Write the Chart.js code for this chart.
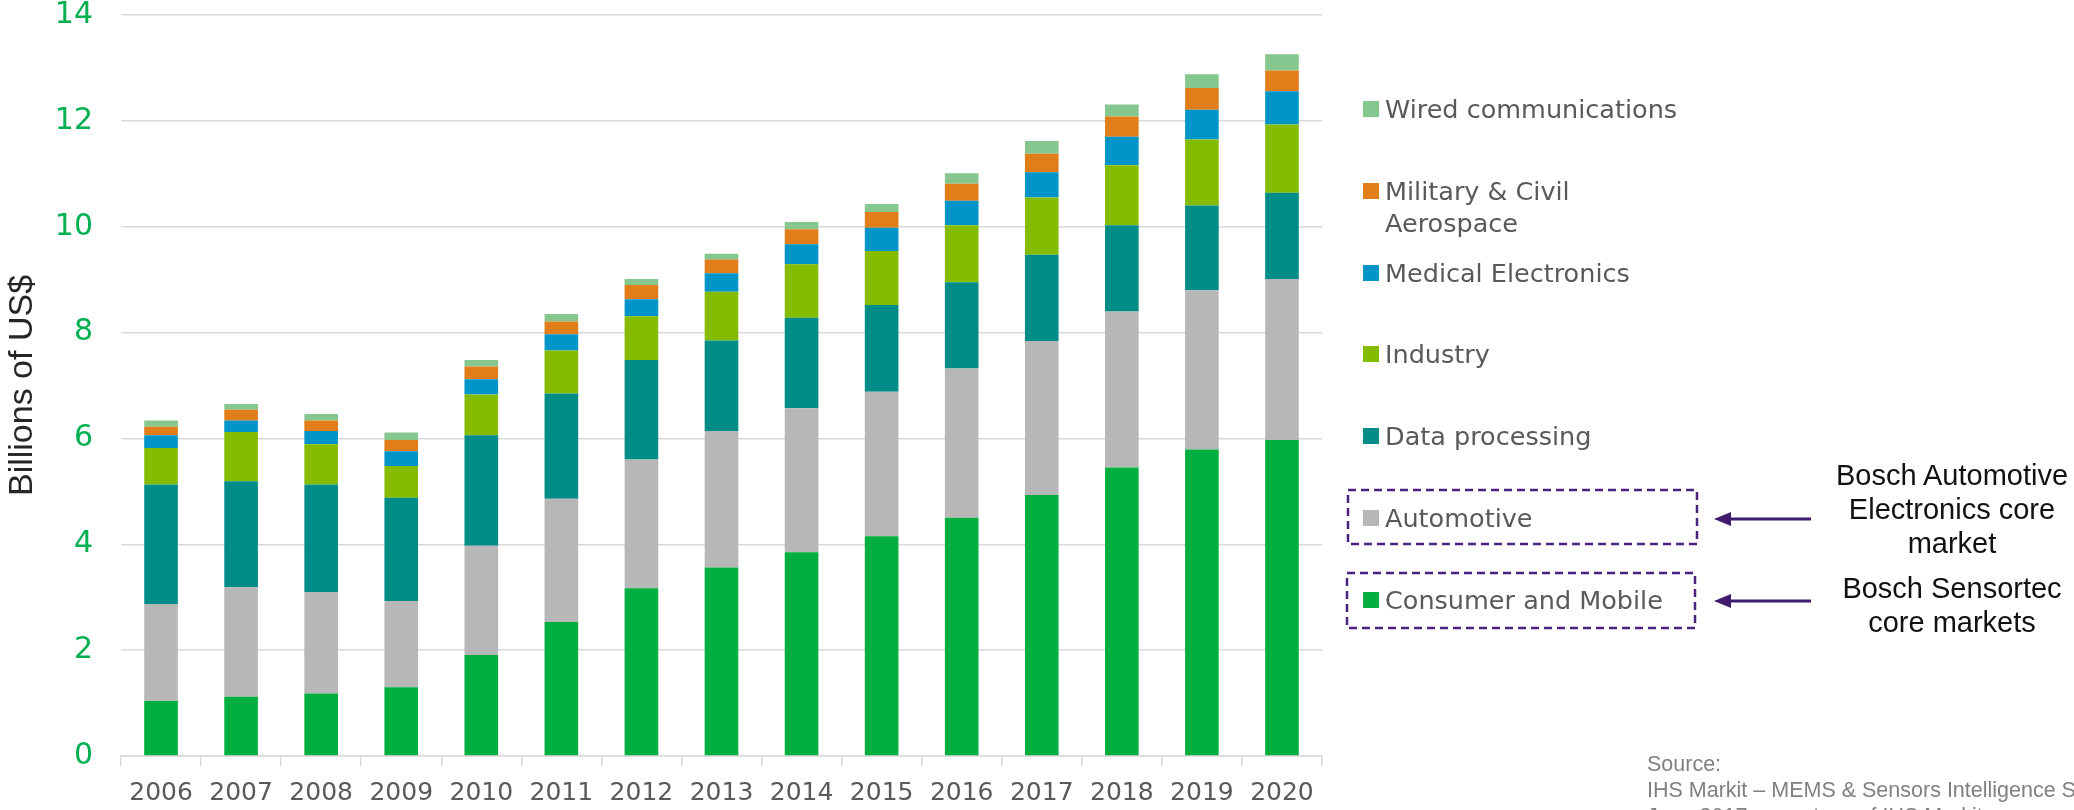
<!DOCTYPE html>
<html>
<head>
<meta charset="utf-8">
<script src="https://cdn.jsdelivr.net/npm/chart.js@4.4.1/dist/chart.umd.min.js"></script>
<style>
  html, body { margin: 0; padding: 0; background: #fff; overflow: hidden; }
  #wrap { position: relative; width: 2074px; height: 810px; overflow: hidden; }
  #wrap canvas { position: absolute; left: 0; top: 0; }
  .leg { position: absolute; left: 1363px; font-family: 'DejaVu Sans', Verdana, sans-serif; font-size: 25.5px; line-height: 32px; color: #595959; white-space: pre-line; }
  .leg i { position: absolute; left: 0; top: 8px; width: 16px; height: 16px; }
  .leg span { display: block; margin-left: 22px; }
  .note { position: absolute; width: 300px; text-align: center; font-family: 'Liberation Sans', Arial, sans-serif; font-size: 29px; line-height: 34px; color: #111; }
  #source { position: absolute; left: 1647px; top: 751px; font-family: 'Liberation Sans', Arial, sans-serif; font-size: 21.5px; line-height: 26px; color: #808080; white-space: nowrap; }
  svg { position: absolute; left: 0; top: 0; }
</style>
</head>
<body>
<div id="wrap">
  <canvas id="market_chart" width="2074" height="810"></canvas>
  <svg width="2074" height="810">
    <g fill="none" stroke="#4a2380" stroke-width="2.5" stroke-dasharray="8 5">
      <rect x="1348" y="490" width="349" height="54"></rect>
      <rect x="1347" y="573" width="348" height="55"></rect>
    </g>
    <g stroke="#3f1b6e" stroke-width="3">
      <line x1="1811" y1="519" x2="1726" y2="519"></line>
      <line x1="1811" y1="601" x2="1726" y2="601"></line>
    </g>
    <g fill="#3f1b6e">
      <polygon points="1714,519 1731,512 1731,526"></polygon>
      <polygon points="1714,601 1731,594 1731,608"></polygon>
    </g>
  </svg>
  <div class="note" style="left:1802px; top:458px;">Bosch Automotive<br>Electronics core<br>market</div>
  <div class="note" style="left:1802px; top:571px;">Bosch Sensortec<br>core markets</div>
  <div id="source">Source:<br>IHS Markit – MEMS &amp; Sensors Intelligence Service<br>June 2017 – courtesy of IHS Markit</div>
</div>
<script>
const years = ['2006', '2007', '2008', '2009', '2010', '2011', '2012', '2013', '2014', '2015', '2016', '2017', '2018', '2019', '2020'];

// billions of US$, bottom of the stack first
const consumerMobile = [1.04, 1.12, 1.18, 1.30, 1.91, 2.53, 3.17, 3.56, 3.85, 4.15, 4.50, 4.93, 5.45, 5.79, 5.97];
const automotive     = [1.83, 2.07, 1.92, 1.63, 2.06, 2.33, 2.43, 2.58, 2.72, 2.73, 2.82, 2.91, 2.95, 3.01, 3.04];
const dataProcessing = [2.26, 2.00, 2.03, 1.95, 2.09, 1.99, 1.88, 1.71, 1.71, 1.64, 1.63, 1.63, 1.63, 1.60, 1.63];
const industry       = [0.69, 0.93, 0.76, 0.60, 0.77, 0.81, 0.83, 0.92, 1.01, 1.02, 1.08, 1.08, 1.13, 1.25, 1.29];
const medical        = [0.24, 0.22, 0.25, 0.28, 0.29, 0.31, 0.32, 0.35, 0.38, 0.44, 0.46, 0.48, 0.54, 0.56, 0.63];
const military       = [0.16, 0.20, 0.20, 0.21, 0.24, 0.24, 0.27, 0.26, 0.28, 0.30, 0.32, 0.35, 0.38, 0.41, 0.39];
const wired          = [0.12, 0.11, 0.12, 0.14, 0.12, 0.14, 0.11, 0.11, 0.14, 0.15, 0.20, 0.24, 0.23, 0.26, 0.31];

const seriesLabels = ['Consumer and Mobile', 'Automotive', 'Data processing', 'Industry', 'Medical Electronics', 'Military & Civil\nAerospace', 'Wired communications'];
const seriesValues = [consumerMobile, automotive, dataProcessing, industry, medical, military, wired];
const seriesColors = ['#00af3f', '#b7b7b7', '#008d87', '#86bc00', '#0095c8', '#e27e1a', '#85c78e'];

const yTicks = [0, 2, 4, 6, 8, 10, 12, 14];

const ctx = document.getElementById('market_chart').getContext('2d');

new Chart(ctx, {
    type: 'bar',
    data: {
        labels: years,
        datasets: seriesValues.map((values, i) => ({
            label: seriesLabels[i].replace('\n', ' '),
            data: values,
            backgroundColor: seriesColors[i],
            borderWidth: 0,
            barPercentage: 0.42,
            categoryPercentage: 1.0
        }))
    },
    options: {
        responsive: false,
        animation: false,
        layout: {
            padding: { top: 0, right: 752, bottom: 0, left: 0 }
        },
        scales: {
            x: {
                stacked: true,
                afterFit: scale => { scale.height = 54; },
                grid: {
                    drawOnChartArea: false,
                    drawTicks: true,
                    tickLength: 10,
                    color: '#d9d9d9',
                    lineWidth: 1.5
                },
                border: { display: true, color: '#d9d9d9', width: 1.5 },
                ticks: {
                    color: '#595959',
                    padding: 12,
                    maxRotation: 0,
                    font: { family: 'DejaVu Sans', size: 25 }
                }
            },
            y: {
                stacked: true,
                min: 0,
                max: 14,
                afterFit: scale => { scale.width = 121; },
                afterBuildTicks: scale => { scale.ticks = yTicks.map(v => ({ value: v })); },
                grid: {
                    drawTicks: true,
                    tickLength: 28,
                    tickColor: 'rgba(0,0,0,0)',
                    color: '#d9d9d9',
                    lineWidth: 1.5
                },
                border: { display: false },
                ticks: {
                    color: '#00b050',
                    padding: 0,
                    font: { family: 'DejaVu Sans', size: 30, lineHeight: 1 }
                },
                title: {
                    display: true,
                    text: 'Billions of US$',
                    color: '#262626',
                    padding: { top: 2, bottom: 0 },
                    font: { family: 'Liberation Sans', size: 34 }
                }
            }
        },
        plugins: {
            legend: { display: false },
            tooltip: { enabled: false }
        }
    }
});

// legend on the right, top entry = top of the stack
const wrap = document.getElementById('wrap');
for (let i = seriesLabels.length - 1; i >= 0; i--) {
    const row = seriesLabels.length - 1 - i;
    const item = document.createElement('div');
    item.className = 'leg';
    item.style.top = (109 + row * 81.8 - 16) + 'px';
    item.innerHTML = '<i style="background:' + seriesColors[i] + '"></i><span></span>';
    item.querySelector('span').textContent = seriesLabels[i];
    wrap.appendChild(item);
}
</script>
</body>
</html>
